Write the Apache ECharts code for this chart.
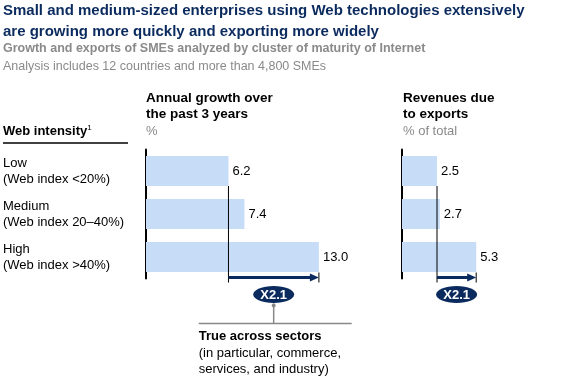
<!DOCTYPE html>
<html>
<head>
<meta charset="utf-8">
<script src="https://cdn.jsdelivr.net/npm/echarts@6/dist/echarts.min.js"></script>
<style>html,body{margin:0;padding:0;background:#fff}#c{width:578px;height:385px}</style>
</head>
<body>
<div id="c"></div>
<script>
const categories = ['Low\n(Web index <20%)', 'Medium\n(Web index 20–40%)', 'High\n(Web index >40%)'];
const growth = [6.2, 7.4, 13.0];
const exportsShare = [2.5, 2.7, 5.3];
const growthMultiple = 'X2.1';
const exportsMultiple = 'X2.1';

const NAVY = '#0b2b5f';
const BAR = '#c6dcf7';
const FONT = '"Liberation Sans", Arial, sans-serif';

function bracket(fromVal, toVal, text, callout) {
  return function (params, api) {
    const pLow = api.coord([fromVal, 0]);
    const pHigh = api.coord([toVal, 2]);
    const band = api.size([0, 1])[1];
    const x0 = pLow[0], x1 = pHigh[0];
    const lowBottom = pLow[1] + 15;
    const axisBottom = pHigh[1] + band / 2;
    const ay = axisBottom - 1;
    const cx = (x0 + x1) / 2;
    const cy = ay + 17;
    const children = [
      { type: 'line', shape: { x1: x0, y1: lowBottom, x2: x0, y2: axisBottom + 4 }, style: { stroke: '#000', lineWidth: 1 } },
      { type: 'line', shape: { x1: x1, y1: ay - 5, x2: x1, y2: ay + 5 }, style: { stroke: '#000', lineWidth: 1 } },
      { type: 'line', shape: { x1: x0, y1: ay, x2: x1 - 7, y2: ay }, style: { stroke: NAVY, lineWidth: 3 } },
      { type: 'polygon', shape: { points: [[x1 - 9, ay - 4], [x1, ay], [x1 - 9, ay + 4]] }, style: { fill: NAVY } },
      { type: 'ellipse', shape: { cx: cx, cy: cy, rx: 20.5, ry: 8.5 }, style: { fill: NAVY } },
      { type: 'text', x: cx, y: cy + 0.5, style: { text: text, fill: '#fff', font: 'bold 13px ' + FONT, align: 'center', verticalAlign: 'middle' } }
    ];
    if (callout) {
      const ly = cy + 29;
      children.push(
        { type: 'line', shape: { x1: cx, y1: cy + 9, x2: cx, y2: ly }, style: { stroke: '#888', lineWidth: 1.5 } },
        { type: 'circle', shape: { cx: cx, cy: cy + 11, r: 2 }, style: { fill: '#888' } },
        { type: 'line', shape: { x1: cx - 75, y1: ly, x2: cx + 78, y2: ly }, style: { stroke: '#888', lineWidth: 1.5 } },
        { type: 'text', x: cx - 75, y: ly + 13, style: { text: 'True across sectors', fill: '#000', font: 'bold 13px ' + FONT, verticalAlign: 'middle' } },
        { type: 'text', x: cx - 75, y: ly + 30, style: { text: '(in particular, commerce,', fill: '#000', font: '13px ' + FONT, verticalAlign: 'middle' } },
        { type: 'text', x: cx - 75, y: ly + 46, style: { text: 'services, and industry)', fill: '#000', font: '13px ' + FONT, verticalAlign: 'middle' } }
      );
    }
    return { type: 'group', children: children };
  };
}

const chart = echarts.init(document.getElementById('c'), null, { renderer: 'canvas' });
const yBase = {
  type: 'category', data: categories, inverse: true,
  axisTick: { show: false },
  axisLine: { show: true, lineStyle: { color: '#000', width: 2 } }
};
chart.setOption({
  animation: false,
  textStyle: { fontFamily: FONT },
  grid: [
    { left: 146, top: 149.5, width: 199.5, height: 129 },
    { left: 402, top: 149.5, width: 84, height: 129 }
  ],
  xAxis: [
    { type: 'value', gridIndex: 0, min: 0, max: 15, show: false },
    { type: 'value', gridIndex: 1, min: 0, max: 6, show: false }
  ],
  yAxis: [
    Object.assign({}, yBase, { gridIndex: 0, axisLabel: { show: true, align: 'left', margin: 143, color: '#000', fontSize: 13, lineHeight: 16, fontFamily: FONT } }),
    Object.assign({}, yBase, { gridIndex: 1, axisLabel: { show: false } })
  ],
  series: [
    { type: 'bar', xAxisIndex: 0, yAxisIndex: 0, data: growth, barWidth: 30, itemStyle: { color: BAR },
      label: { show: true, position: 'right', distance: 4, color: '#000', fontSize: 13, fontFamily: FONT, formatter: p => p.value.toFixed(1) } },
    { type: 'bar', xAxisIndex: 1, yAxisIndex: 1, data: exportsShare, barWidth: 30, itemStyle: { color: BAR },
      label: { show: true, position: 'right', distance: 4, color: '#000', fontSize: 13, fontFamily: FONT, formatter: p => p.value.toFixed(1) } },
    { type: 'custom', xAxisIndex: 0, yAxisIndex: 0, data: [[growth[0], growth[2]]], renderItem: bracket(growth[0], growth[2], growthMultiple, true), z: 5, silent: true },
    { type: 'custom', xAxisIndex: 1, yAxisIndex: 1, data: [[exportsShare[0], exportsShare[2]]], renderItem: bracket(exportsShare[0], exportsShare[2], exportsMultiple, false), z: 5, silent: true }
  ],
  graphic: [
    { type: 'text', left: 3, top: 0, style: { text: 'Small and medium-sized enterprises using Web technologies extensively\nare growing more quickly and exporting more widely', fill: NAVY, font: 'bold 15px ' + FONT, lineHeight: 21 } },
    { type: 'text', left: 3, top: 42, style: { text: 'Growth and exports of SMEs analyzed by cluster of maturity of Internet', fill: '#8a8a8a', font: 'bold 12.5px ' + FONT } },
    { type: 'text', left: 3, top: 60, style: { text: 'Analysis includes 12 countries and more than 4,800 SMEs', fill: '#8a8a8a', font: '12.5px ' + FONT } },
    { type: 'text', left: 146, top: 91, style: { text: 'Annual growth over\nthe past 3 years', fill: '#000', font: 'bold 13.5px ' + FONT, lineHeight: 15.5 } },
    { type: 'text', left: 146, top: 125, style: { text: '%', fill: '#8a8a8a', font: '13px ' + FONT } },
    { type: 'text', left: 403, top: 91, style: { text: 'Revenues due\nto exports', fill: '#000', font: 'bold 13.5px ' + FONT, lineHeight: 15.5 } },
    { type: 'text', left: 403, top: 125, style: { text: '% of total', fill: '#8a8a8a', font: '13px ' + FONT } },
    { type: 'text', left: 3, top: 124, style: { text: '{a|Web intensity}{s|1}', rich: { a: { font: 'bold 13px ' + FONT, fill: '#000', color: '#000' }, s: { fontSize: 8, color: '#000', verticalAlign: 'top', padding: [0, 0, 6, 0] } } } },
    { type: 'line', shape: { x1: 3, y1: 143, x2: 128, y2: 143 }, style: { stroke: '#000', lineWidth: 1.5 } }
  ]
});
</script>
</body>
</html>
